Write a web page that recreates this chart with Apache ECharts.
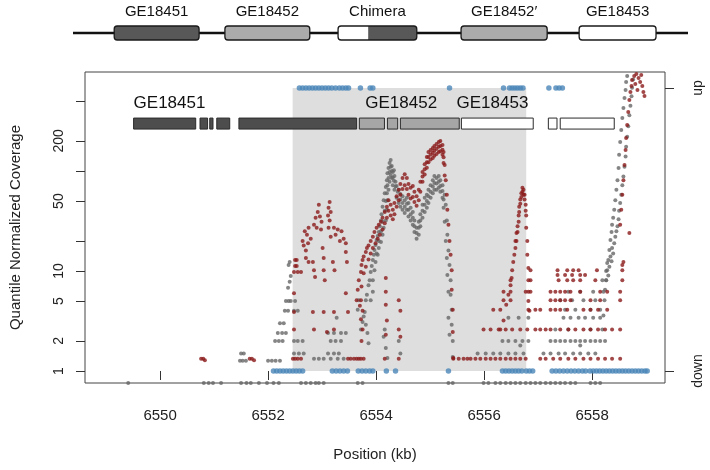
<!DOCTYPE html>
<html>
<head>
<meta charset="utf-8">
<script src="https://cdn.jsdelivr.net/npm/echarts@6/dist/echarts.min.js"></script>
<style>
html,body{margin:0;padding:0;background:#fff;}
#c{width:710px;height:470px;}
</style>
</head>
<body>
<div id="c"></div>
<script>
// ---------------- data ----------------
const xTicks = [6550, 6552, 6554, 6556, 6558];
const yTicks = [1, 2, 5, 10, 20, 50, 100, 200, 500];
const yTickLabels = [1, 2, 5, 10, 50, 200];
const strandTicks = [0, 1];
const strandLabels = ['down', 'up'];
const shadeRange = [6552.455, 6556.78];

// gene models drawn inside the plot (kb)
const exonStart = [6549.51, 6550.74, 6550.92, 6551.05, 6551.46, 6553.69, 6554.21, 6554.45, 6555.58, 6557.19, 6557.41];
const exonEnd   = [6550.66, 6550.88, 6550.98, 6551.29, 6553.64, 6554.155, 6554.40, 6555.54, 6556.91, 6557.35, 6558.41];
const exonGene  = [0, 0, 0, 0, 0, 1, 1, 1, 2, 2, 2];
const geneNames = ['GE18451', 'GE18452', 'GE18453'];
const geneLabelAt = [6549.51, 6553.80, 6555.49];
const geneTrackLevel = 298;
const geneLabelLevel = 470;

// schematic above the plot (0-100 along the drawn line)
const schemNames = ['GE18451', 'GE18452', 'Chimera', 'GE18452\u2032', 'GE18453'];
const schemStart = [6.7, 24.7, 43.1, 63.1, 82.3];
const schemEnd   = [20.5, 38.5, 55.9, 77.1, 94.8];
const schemSplit = [null, null, 48.0, null, null];
const schemKind  = [0, 1, 3, 1, 2]; // 0 dark, 1 light, 2 white, 3 white|dark

// coverage points [kb, coverage]
const grayPoints = [
[6549.41,0.76],[6550.81,0.76],[6550.90,0.76],[6550.98,0.76],[6551.13,0.76],[6551.50,0.76],[6551.60,0.76],[6551.68,0.76],[6551.83,0.76],[6551.98,0.76],[6552.10,0.76],[6552.20,0.76],[6552.61,0.76],[6552.70,0.76],[6552.79,0.76],[6552.88,0.76],[6552.94,0.76],[6553.03,0.76],[6553.66,0.76],[6553.75,0.76],[6555.34,0.76],[6555.42,0.76],[6555.99,0.76],[6556.08,0.76],[6556.21,0.76],[6556.30,0.76],[6556.40,0.76],[6556.49,0.76],[6556.58,0.76],[6556.67,0.76],[6556.77,0.76],[6556.86,0.76],[6556.95,0.76],[6557.04,0.76],[6557.14,0.76],[6557.23,0.76],[6557.32,0.76],[6557.41,0.76],[6557.50,0.76],[6557.60,0.76],[6557.69,0.76],[6557.97,0.76],[6558.06,0.76],[6558.15,0.76],
[6551.50,1.5],[6551.55,1.5],[6551.48,1.27],[6551.53,1.27],[6551.59,1.27],
[6552.00,1.27],[6552.07,1.27],[6552.14,1.27],[6552.22,1.27],
[6552.13,2],[6552.20,2],[6552.27,2],
[6552.18,2.4],[6552.26,2.4],[6552.33,2.4],
[6552.22,3],[6552.29,3],[6552.31,4],[6552.37,4],[6552.33,5],[6552.38,5],
[6552.37,6.8],[6552.40,7.8],[6552.42,8.9],[6552.38,11.5],[6552.40,12.3],
[6552.48,2],[6552.55,2],[6552.64,2],[6553.16,2],[6553.25,2],[6553.35,2],
[6553.11,2.4],[6553.22,2.4],[6553.35,2.4],[6553.44,2.4],
[6552.48,1.5],[6552.57,1.5],[6552.66,1.5],[6553.11,1.5],[6553.22,1.5],[6553.31,1.5],
[6552.85,1.33],[6552.94,1.33],[6553.03,1.33],[6553.16,1.33],[6553.29,1.33],[6553.40,1.33],
[6553.27,3.4],[6552.48,4],[6552.55,4],[6552.42,5],[6552.50,5],
// peak 2 upper edge
[6553.66,4.1],[6553.68,5.1],[6553.72,2.6],[6553.75,3.1],[6553.79,3.9],[6553.81,5.1],[6553.83,5.8],[6553.86,7.2],[6553.88,8.1],[6553.90,9.8],[6553.92,11.2],[6553.94,12.9],[6553.96,14.5],[6553.97,16.2],[6553.99,18.2],[6554.01,20.4],[6554.03,22.4],[6554.05,24.5],[6554.07,28],[6554.09,32],[6554.10,37],[6554.12,44],[6554.14,51],[6554.16,60],[6554.18,69],[6554.20,81],[6554.21,95],[6554.23,107],[6554.25,120],[6554.27,129],[6554.29,112],[6554.31,98],[6554.33,102],[6554.34,89],[6554.36,78],[6554.38,71],[6554.42,65],[6554.45,59],[6554.49,56],[6554.53,51],[6554.57,54],[6554.60,48],[6554.64,43],[6554.68,39],[6554.71,32],[6554.75,27],[6554.79,31],[6554.82,37],[6554.86,46],[6554.90,54],[6554.94,58],[6554.97,65],[6555.01,72],[6555.05,81],[6555.08,89],[6555.12,85],[6555.16,89],[6555.19,81],[6555.23,72],[6555.27,58],[6555.29,46],[6555.31,32],[6555.32,23],[6555.34,16],[6555.36,11.5],[6555.38,8.1],[6555.38,5.8],[6555.40,4.1],[6555.40,2.9],[6555.42,2.0],[6555.42,1.38],
// peak 2 middle of band
[6554.01,15],[6554.05,20],[6554.09,25],[6554.12,31],[6554.16,40],[6554.18,50],[6554.20,60],[6554.21,72],[6554.23,85],[6554.25,98],[6554.27,110],[6554.29,100],[6554.31,86],[6554.33,80],
[6554.36,70],[6554.40,62],[6554.45,52],[6554.49,48],[6554.53,44],[6554.57,47],[6554.60,41],[6554.64,37],[6554.68,34],[6554.71,28],[6554.75,24],[6554.79,27],[6554.82,32],[6554.86,40],[6554.90,46],[6554.94,50],[6554.97,56],[6555.01,62],[6555.05,70],[6555.08,76],[6555.12,75],[6555.16,78],[6555.19,71],[6555.23,63],[6555.25,52],
// peak 2 lower edge
[6553.94,8.1],[6553.97,10.2],[6553.99,12.3],[6554.03,14.5],[6554.05,17],[6554.09,19.5],[6554.12,23],[6554.14,27],[6554.18,32],[6554.20,41],[6554.21,51],[6554.23,65],[6554.25,78],[6554.27,91],[6554.29,85],[6554.31,72],[6554.34,65],[6554.38,54],[6554.42,48],[6554.45,44],[6554.49,41],[6554.53,38],[6554.57,41],[6554.60,35],[6554.64,32],[6554.68,29],[6554.71,24.5],[6554.75,21],[6554.79,23],[6554.82,28],[6554.86,34],[6554.90,39],[6554.94,43],[6554.97,48],[6555.01,54],[6555.05,60],[6555.08,65],[6555.12,65],[6555.16,68],[6555.19,62],[6555.23,54],[6555.25,43],[6555.27,31],[6555.29,20],[6555.31,13.5],[6555.32,9.1],[6555.34,6.2],[6555.34,3.4],[6555.36,2.3],
[6553.77,3.5],[6553.81,2.9],[6553.84,2.4],[6553.86,1.9],[6553.90,5.1],[6553.94,6.2],
[6554.14,2.2],[6554.18,1.7],[6554.21,1.35],[6554.16,2.6],[6554.42,2],[6554.45,1.5],
// right low rows
[6555.88,1.5],[6556.03,1.5],[6556.17,1.5],[6556.30,1.5],[6556.45,1.5],[6556.58,1.5],[6556.73,1.5],[6557.10,1.5],[6557.23,1.5],[6557.38,1.5],[6557.50,1.5],[6557.65,1.5],[6557.78,1.5],[6557.93,1.5],[6558.06,1.5],
[6556.34,2],[6556.45,2],[6556.58,2],[6556.71,2],[6556.82,2],[6557.23,2],[6557.32,2],[6557.41,2],[6557.50,2],[6557.60,2],[6557.69,2],[6557.78,2],[6557.87,2],[6557.97,2],[6558.06,2],[6558.15,2],[6558.24,2],
[6556.45,3.4],[6556.64,3.4],[6556.82,3.4],[6557.47,3.4],[6557.60,3.4],[6557.75,3.4],[6557.87,3.4],[6558.02,3.4],[6558.15,3.4],
[6557.50,4.1],[6557.69,4.1],[6557.97,4.1],[6558.15,4.1],
[6557.41,5.1],[6557.63,5.1],[6557.84,5.1],[6558.06,5.1],
[6557.56,6.2],[6557.78,6.2],[6558.02,6.2],[6558.21,6.2],
[6558.19,8.1],[6558.26,8.1],
[6557.32,2.6],[6557.56,2.6],[6557.97,2.6],[6556.67,1.8],[6557.78,1.8],
// right rise
[6558.19,2.6],[6558.21,3.6],[6558.23,5.1],[6558.24,6.5],[6558.26,8.1],[6558.28,10.2],[6558.30,12.9],[6558.32,16.2],[6558.34,20.4],[6558.36,24.5],[6558.37,29],[6558.39,34],[6558.41,41],[6558.43,51],[6558.45,65],[6558.47,81],[6558.49,107],[6558.50,145],[6558.52,195],[6558.54,257],[6558.56,339],[6558.58,427],[6558.60,537],[6558.62,646],[6558.63,776],[6558.65,891],
[6558.26,10],[6558.28,12],[6558.30,9],[6558.32,11],[6558.34,14],[6558.36,12.5],[6558.37,17],[6558.39,15],[6558.41,19],[6558.43,22],[6558.45,25],[6558.47,28],[6558.49,33],[6558.50,40],[6558.52,48],[6558.54,58],[6558.56,72],[6558.58,88],[6558.60,110],[6558.62,140],[6558.63,175],[6558.65,220],[6558.67,280],[6558.69,360],[6558.71,450],[6558.73,560],[6558.74,680],[6558.76,820]
];

const redPoints = [
[6550.76,1.33],[6550.80,1.33],[6550.83,1.28],[6551.66,1.33],[6551.70,1.33],[6551.74,1.28],
// peak 1
[6552.64,20],[6552.68,25],[6552.72,23],[6552.75,27],[6552.79,21],[6552.66,18],[6552.74,19],[6552.70,16],
[6552.85,29],[6552.88,34],[6552.92,39],[6552.96,35],[6552.99,31],[6552.90,27],[6552.98,26],[6552.94,46],
[6553.11,36],[6553.12,43],[6553.14,49],[6553.16,39],[6553.14,32],[6553.12,27],[6553.16,22],
[6553.25,23],[6553.29,26],[6553.33,20],[6553.36,25],[6553.40,21],[6553.44,19],[6553.22,27],
[6552.50,12.9],[6552.53,12.9],[6552.50,11.2],[6552.53,11.2],[6552.48,9.8],[6552.55,9.8],[6552.61,9.8],
[6552.70,13.5],[6552.75,12.3],[6552.83,12.3],[6552.85,10.2],[6552.87,8.7],
[6553.01,17],[6553.03,13.5],[6553.03,10.2],[6553.05,8.1],[6553.20,12.3],[6553.23,10.2],[6553.44,15.5],[6553.46,12.3],
[6552.48,6],[6553.44,6],[6552.48,3.9],[6552.83,3.9],[6553.03,3.9],[6553.22,3.9],[6553.48,3.9],[6552.48,2.6],[6552.85,2.6],[6553.22,2.6],[6553.09,2.45],
[6552.46,1.33],[6552.50,1.33],[6552.55,1.33],[6552.61,1.33],[6553.48,1.33],[6553.53,1.33],[6553.59,1.33],[6553.64,1.33],[6553.72,1.33],
// peak 2
[6553.64,5.1],[6553.66,6.5],[6553.68,8.1],[6553.72,9.8],[6553.73,11.5],[6553.75,12.9],[6553.77,14],[6553.81,15.5],[6553.83,17],[6553.86,18],[6553.90,20],[6553.94,22],[6553.97,24.5],[6554.01,27],[6554.05,29],[6554.09,31],[6554.12,34],[6554.16,39],[6554.20,44],[6554.23,51],[6554.27,46],[6554.31,41],[6554.34,48],[6554.38,56],[6554.42,65],[6554.45,74],[6554.49,85],[6554.53,93],[6554.57,85],[6554.60,74],[6554.64,68],[6554.68,71],[6554.71,62],[6554.75,56],[6554.79,65],[6554.82,78],[6554.86,98],[6554.90,117],[6554.94,138],[6554.97,155],[6555.01,162],[6555.05,170],[6555.08,178],[6555.12,186],[6555.16,195],[6555.19,200],[6555.23,182],[6555.25,155],[6555.27,115],[6555.29,81],[6555.31,58],[6555.32,41],[6555.34,29],[6555.36,20],[6555.38,14.5],[6555.40,10.2],[6555.40,6.5],[6555.42,4.1],[6555.42,2.45],[6555.43,1.35],
[6554.86,88],[6554.90,104],[6554.94,122],[6554.97,138],[6555.01,146],[6555.05,152],[6555.08,160],[6555.12,167],[6555.16,175],[6555.19,178],[6555.23,163],[6555.25,137],
[6553.70,4.5],[6553.73,7],[6553.77,9.5],[6553.81,11],[6553.86,13],[6553.90,15],[6553.94,17],[6553.99,19],[6554.03,21],[6554.07,23],[6554.12,26],[6554.16,30],[6554.20,34],[6554.23,40],[6554.27,36],[6554.31,33],[6554.34,37],[6554.38,44],[6554.42,51],[6554.45,58],[6554.49,66],[6554.53,72],[6554.57,66],[6554.60,58],[6554.64,53],[6554.68,55],[6554.71,49],[6554.75,45],[6554.79,51],[6554.82,62],[6554.86,78],[6554.90,92],[6554.94,108],[6554.97,122],[6555.01,130],[6555.05,135],[6555.08,142],[6555.12,148],[6555.16,155],[6555.19,158],[6555.23,145],[6555.25,120],[6555.27,90],
[6553.72,5.1],[6553.75,4],[6553.72,3.3],[6553.75,2.6],[6553.73,2],[6553.68,1.33],[6553.77,1.33],
[6554.18,8.5],[6554.18,6.2],[6554.18,4.6],[6554.20,3.2],[6554.18,2.3],[6554.16,1.33],
[6554.42,5.1],[6554.45,4],[6554.42,2.6],[6554.45,2.2],[6554.42,1.33],
// peak 3
[6556.30,2.6],[6556.36,3.2],[6556.41,4.6],[6556.45,5.8],[6556.49,7.2],[6556.51,8.5],[6556.52,10.2],[6556.54,12.3],[6556.56,14.5],[6556.58,17],[6556.60,20],[6556.62,24.5],[6556.64,31],[6556.65,39],[6556.67,47],[6556.69,55],[6556.71,62],[6556.73,65],[6556.75,58],[6556.77,46],[6556.78,36],[6556.78,27],[6556.80,20],[6556.80,14.5],[6556.82,10.7],[6556.82,8.1],
[6556.62,28],[6556.64,36],[6556.65,44],[6556.67,52],[6556.69,60],[6556.71,68],[6556.73,58],[6556.58,20],[6556.60,24],[6556.75,52],[6556.77,40],[6556.82,6.2],[6556.82,5],[6556.84,4],
// right low rows
[6555.43,1.33],[6555.53,1.33],[6555.62,1.33],[6555.69,1.33],[6555.75,1.33],[6555.84,1.33],[6555.93,1.33],[6556.03,1.33],[6556.12,1.33],[6556.21,1.33],[6556.30,1.33],[6556.40,1.33],[6556.49,1.33],[6556.58,1.33],[6556.67,1.33],[6556.77,1.33],[6557.04,1.33],[6557.14,1.33],[6557.28,1.33],[6557.41,1.33],[6557.56,1.33],[6557.69,1.33],[6557.84,1.33],[6557.97,1.33],[6558.11,1.33],[6558.24,1.33],[6558.37,1.33],[6558.52,1.33],
[6555.99,2.6],[6556.12,2.6],[6556.27,2.6],[6556.40,2.6],[6556.52,2.6],[6556.67,2.6],[6556.80,2.6],[6556.95,2.6],[6557.04,2.6],[6557.14,2.6],[6557.23,2.6],[6557.41,2.6],[6557.56,2.6],[6557.69,2.6],[6557.84,2.6],[6557.97,2.6],[6558.11,2.6],[6558.24,2.6],[6558.37,2.6],[6558.52,2.6],
[6556.17,4.1],[6556.30,4.1],[6556.82,4.1],[6556.95,4.1],[6557.04,4.1],[6557.23,4.1],[6557.32,4.1],[6557.41,4.1],[6557.54,4.1],[6557.84,4.1],[6557.97,4.1],[6558.11,4.1],[6558.28,4.1],
[6556.36,5.1],[6556.49,5.1],[6557.23,5.1],[6557.32,5.1],[6557.41,5.1],[6557.50,5.1],[6557.60,5.1],[6557.97,5.1],[6558.15,5.1],[6558.52,5.1],
[6556.36,6.2],[6556.49,6.2],[6556.77,6.2],[6556.86,6.2],[6557.23,6.2],[6557.32,6.2],[6557.41,6.2],[6557.50,6.2],[6557.60,6.2],[6557.78,6.2],[6558.15,6.2],[6558.28,6.2],[6558.52,6.2],
[6556.49,8.1],[6556.86,8.1],[6557.38,8.1],[6557.54,8.1],[6557.65,8.1],[6557.78,8.1],[6558.06,8.1],[6558.56,8.1],
[6557.36,9.1],[6557.50,9.1],[6557.63,9.1],[6557.78,9.1],[6557.87,9.1],
[6556.86,10.2],[6557.36,10.2],[6557.54,10.2],[6557.65,10.2],[6557.75,10.2],[6558.09,10.2],[6558.56,10.2],[6558.56,11.5],
// right rise
[6558.52,29],[6558.54,41],[6558.56,58],[6558.58,81],[6558.60,115],[6558.62,162],[6558.63,214],[6558.65,288],[6558.67,389],[6558.69,513],[6558.71,617],[6558.73,708],[6558.74,813],[6558.78,891],[6558.82,933],[6558.86,851],[6558.89,776],[6558.93,708],[6558.95,617],[6558.97,562],[6558.91,912],[6558.84,646],[6558.80,741],[6558.69,24],[6558.58,12.3]
];

const blueUp = [6552.58,6552.64,6552.70,6552.76,6552.82,6552.88,6552.94,6553.00,6553.06,6553.12,6553.18,6553.25,6553.32,6553.38,6553.44,6553.49,6553.71,6553.89,6553.94,6555.36,6556.36,6556.47,6556.52,6556.57,6556.62,6556.67,6556.72,6557.20,6557.33,6557.39,6557.45];
const blueDown = [6552.10,6552.16,6552.22,6552.28,6552.34,6552.40,6552.46,6552.52,6552.58,6552.64,6553.19,6553.26,6553.33,6553.40,6553.47,6553.67,6553.74,6553.81,6553.88,6553.94,6554.19,6554.36,6555.34,6556.34,6556.40,6556.46,6556.52,6556.58,6556.64,6556.70,6556.78,6556.84,6556.90,6557.26,6557.33,6557.40,6557.47,6557.54,6557.61,6557.68,6557.75,6557.82,6557.88,6557.96,6558.02,6558.08,6558.14,6558.20,6558.26,6558.32,6558.38,6558.44,6558.50,6558.56,6558.62,6558.68,6558.74,6558.80,6558.86,6558.92,6558.98,6559.02];

// ---------------- styles ----------------
const FONT = '"Liberation Sans", Arial, Helvetica, sans-serif';
const NARROW = '"Liberation Sans Narrow", "Liberation Sans", Arial, sans-serif';
const exonFill = ['#4d4d4d', '#a6a6a6', '#ffffff'];
const schemFill = ['#585858', '#ababab', '#ffffff'];

const chart = echarts.init(document.getElementById('c'), null, {renderer: 'canvas'});

const exonData = exonStart.map((s, i) => [s, exonEnd[i], geneTrackLevel, exonGene[i]]);
const geneLabelData = geneNames.map((n, i) => [geneLabelAt[i], geneLabelLevel, n]);
const schemData = schemNames.map((n, i) => [schemStart[i], schemEnd[i], schemKind[i], schemSplit[i] == null ? -1 : schemSplit[i], n]);

const option = {
  animation: false,
  backgroundColor: '#fff',
  textStyle: {fontFamily: FONT},
  grid: [
    {left: 84, right: 45, top: 72, bottom: 87, show: true, borderColor: '#444', borderWidth: 1, backgroundColor: 'transparent'},
    {left: 73, right: 22, top: 26, height: 14, show: false}
  ],
  xAxis: [
    {
      type: 'value', gridIndex: 0, min: 6548.61, max: 6559.35,
      axisLine: {show: false},
      splitLine: {show: false},
      axisTick: {show: true, customValues: xTicks, length: 9, inside: false, lineStyle: {color: '#333'}},
      axisLabel: {customValues: xTicks, fontSize: 15, color: '#222', margin: 25, fontFamily: FONT,
        formatter: v => String(Math.round(v))},
      name: 'Position (kb)', nameLocation: 'middle', nameGap: 64,
      nameTextStyle: {fontSize: 15, color: '#222', fontFamily: FONT}
    },
    {type: 'value', gridIndex: 1, min: 0, max: 100, show: false}
  ],
  yAxis: [
    {
      type: 'log', logBase: 10, gridIndex: 0, min: 0.759, max: 977,
      axisLine: {show: false},
      splitLine: {show: false},
      axisTick: {show: true, customValues: yTicks, length: 9, lineStyle: {color: '#333'}},
      axisLabel: {customValues: yTickLabels, rotate: 90, fontSize: 14, color: '#222', margin: 19, fontFamily: FONT},
      name: 'Quantile Normalized Coverage', nameLocation: 'middle', nameGap: 62, nameRotate: 90,
      nameTextStyle: {fontSize: 15, color: '#222', fontFamily: FONT}
    },
    {
      type: 'value', gridIndex: 0, position: 'right', min: -0.0424, max: 1.0565,
      axisLine: {show: false},
      splitLine: {show: false},
      axisTick: {show: true, customValues: strandTicks, length: 9, lineStyle: {color: '#333'}},
      axisLabel: {customValues: strandTicks, rotate: 90, fontSize: 14, color: '#222', margin: 26, fontFamily: FONT,
        formatter: v => strandLabels[Math.round(v)]}
    },
    {type: 'value', gridIndex: 1, min: 0, max: 1, show: false}
  ],
  series: [
    {
      type: 'scatter', xAxisIndex: 0, yAxisIndex: 1, data: [], z: 1, silent: true,
      markArea: {silent: true, itemStyle: {color: '#dedede'}, data: [[{coord: [shadeRange[0], 0]}, {coord: [shadeRange[1], 1]}]]}
    },
    {
      type: 'scatter', xAxisIndex: 0, yAxisIndex: 0, data: grayPoints, symbolSize: 4, z: 3,
      itemStyle: {color: '#666666'}
    },
    {
      type: 'scatter', xAxisIndex: 0, yAxisIndex: 0, data: redPoints, symbolSize: 4, z: 4,
      itemStyle: {color: '#8b1a1a'}
    },
    {
      type: 'scatter', xAxisIndex: 0, yAxisIndex: 1, data: blueUp.map(x => [x, 1]).concat(blueDown.map(x => [x, 0])),
      symbolSize: 5.5, z: 5, itemStyle: {color: '#4a86b8'}
    },
    {
      type: 'custom', xAxisIndex: 0, yAxisIndex: 0, z: 6, data: exonData, encode: {x: [0, 1], y: 2},
      renderItem: function (params, api) {
        const a = api.coord([api.value(0), api.value(2)]);
        const b = api.coord([api.value(1), api.value(2)]);
        const h = 11;
        return {type: 'rect', shape: {x: a[0], y: a[1] - h / 2, width: b[0] - a[0], height: h},
          style: {fill: exonFill[api.value(3)], stroke: '#2b2b2b', lineWidth: 1}};
      }
    },
    {
      type: 'custom', xAxisIndex: 0, yAxisIndex: 0, z: 6, data: geneLabelData, encode: {x: 0, y: 1},
      renderItem: function (params, api) {
        const p = api.coord([api.value(0), api.value(1)]);
        return {type: 'text', x: p[0], y: p[1],
          style: {text: geneLabelData[params.dataIndex][2], fill: '#111', font: '17px ' + FONT, textAlign: 'left', textVerticalAlign: 'middle'}};
      }
    },
    {
      type: 'line', xAxisIndex: 1, yAxisIndex: 2, data: [[0, 0.5], [100, 0.5]], symbol: 'none', z: 1,
      lineStyle: {color: '#111', width: 2.5}, silent: true
    },
    {
      type: 'custom', xAxisIndex: 1, yAxisIndex: 2, z: 5, data: schemData, encode: {x: [0, 1], y: 2},
      renderItem: function (params, api) {
        const d = schemData[params.dataIndex];
        const a = api.coord([d[0], 1]);
        const b = api.coord([d[1], 0]);
        const w = b[0] - a[0], h = b[1] - a[1];
        const children = [];
        if (d[2] === 3) {
          const s = api.coord([d[3], 0]);
          children.push({type: 'rect', shape: {x: a[0], y: a[1], width: w, height: h, r: 3}, style: {fill: '#fff', stroke: 'none'}});
          children.push({type: 'rect', shape: {x: s[0], y: a[1], width: b[0] - s[0], height: h, r: [0, 3, 3, 0]}, style: {fill: schemFill[0], stroke: 'none'}});
          children.push({type: 'rect', shape: {x: a[0], y: a[1], width: w, height: h, r: 3}, style: {fill: 'none', stroke: '#1a1a1a', lineWidth: 1.3}});
        } else {
          children.push({type: 'rect', shape: {x: a[0], y: a[1], width: w, height: h, r: 3}, style: {fill: schemFill[d[2]], stroke: '#1a1a1a', lineWidth: 1.3}});
        }
        children.push({type: 'text', x: (a[0] + b[0]) / 2, y: a[1] - 7,
          style: {text: d[4], fill: '#111', font: '15px ' + NARROW, textAlign: 'center', textVerticalAlign: 'bottom'}});
        return {type: 'group', children: children};
      }
    }
  ]
};
chart.setOption(option);
</script>
</body>
</html>
